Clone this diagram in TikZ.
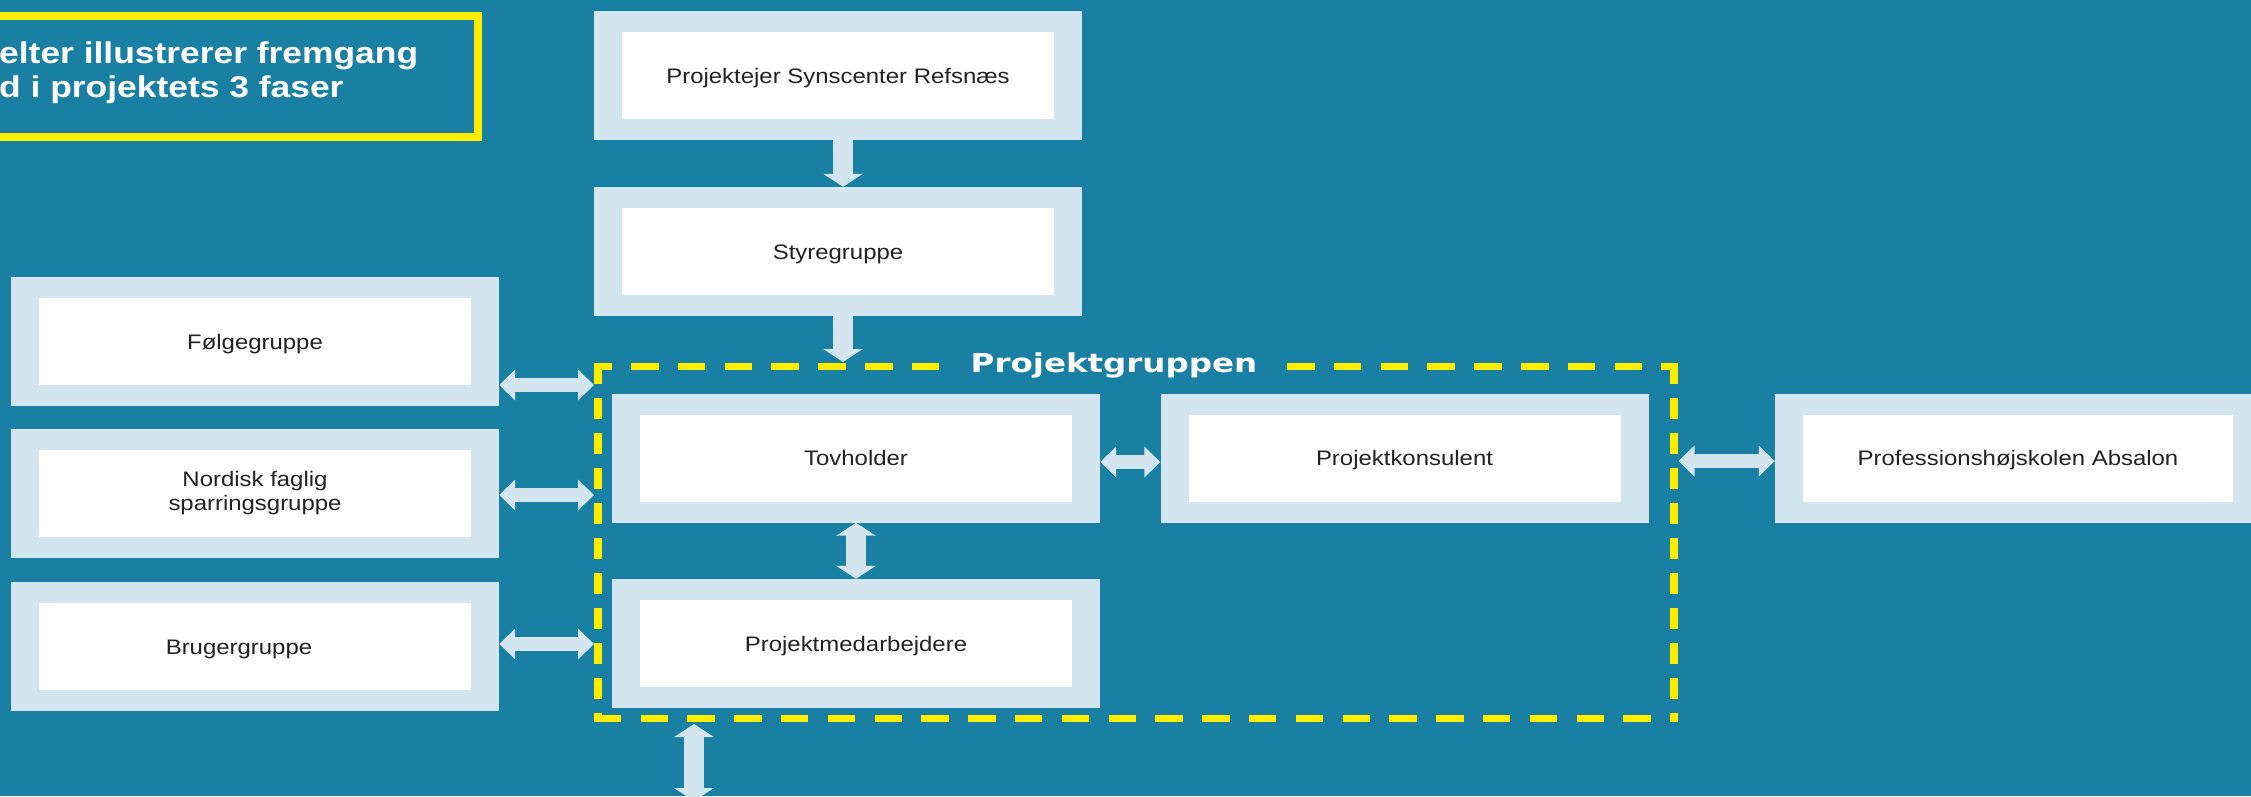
\documentclass[tikz,border=0pt]{standalone}
\usepackage{fontspec}
\setmainfont{Liberation Sans}[FakeStretch=1.14]
\newfontfamily\titlefont{Liberation Sans}[FakeStretch=1.18]
\newfontfamily\groupfont{DejaVu Sans}[FakeStretch=1.25]
\usetikzlibrary{arrows.meta}
\definecolor{bgteal}{RGB}{25,128,163}
\definecolor{boxblue}{RGB}{211,230,240}
\definecolor{frameyellow}{RGB}{255,237,0}
\definecolor{labelgrey}{RGB}{34,34,34}
\begin{document}
\begin{tikzpicture}[x=1pt,y=-1pt,
    box/.style={fill=boxblue,minimum width=488pt,minimum height=129pt,inner sep=0pt,
      text=labelgrey,font=\fontsize{21}{24}\selectfont,text height=15pt,text depth=0pt,
      path picture={\fill[white] ([xshift=28pt,yshift=21pt]path picture bounding box.south west)
        rectangle ([xshift=-28pt,yshift=-21pt]path picture bounding box.north east);}},
    harrow/.style={boxblue,line width=14pt,>={Triangle[width=30pt,length=16pt]}},
    varrow/.style={boxblue,line width=20pt,>={Triangle[width=39pt,length=13pt]}},
    hdash/.style={frameyellow,line width=7pt,dash pattern=on 27.5pt off 19.3pt},
    vdash/.style={frameyellow,line width=8.5pt,dash pattern=on 21pt off 14pt}]
    \fill[bgteal] (0,0) rectangle (2251,796);
    \useasboundingbox (0,0) rectangle (2251,796);
    \draw[frameyellow,line width=8pt] (-20,15.5) rectangle (477.5,137);
    \node[anchor=base west,inner sep=0pt,text=white,font={\titlefont\bfseries\fontsize{30}{34}\selectfont}] (title1) at (-1,63.3) {elter illustrerer fremgang};
    \node[anchor=base west,inner sep=0pt,text=white,font={\titlefont\bfseries\fontsize{30}{34}\selectfont}] (title2) at (-1,97.7) {d i projektets 3 faser};
    \node[box] (owner) at (838,75.5) {Projektejer Synscenter Refsnæs};
    \node[box] (steer) at (838,251.5) {Styregruppe};
    \node[box] (folge) at (255,341.5) {Følgegruppe};
    \node[box,align=center,text height=,text depth=] (nordic) at (255,493.5) {Nordisk faglig\\sparringsgruppe};
    \node[box] (bruger) at (255,646.5) {Brugergruppe\hspace*{32pt}};
    \node[box] (tov) at (856,458) {Tovholder};
    \node[box] (staff) at (856,643.5) {Projektmedarbejdere};
    \node[box] (consult) at (1404.5,458) {Projektkonsulent};
    \node[box,minimum width=486pt] (absalon) at (2018,458) {Professionshøjskolen Absalon};
    \coordinate (pgnw) at (598,366);
    \coordinate (pgne) at (1674,366);
    \coordinate (pgsw) at (598,718);
    \coordinate (pgse) at (1674,718);
    \draw[hdash,dash phase=9.5pt] ([xshift=-4.25pt]pgnw) -- (940,366);
    \draw[hdash] (1287,366) -- ([xshift=4.25pt]pgne);
    \draw[hdash] ([xshift=-4.25pt]pgsw) -- ([xshift=4.25pt]pgse);
    \draw[vdash] ([yshift=3.5pt]pgnw) -- ([yshift=-3.5pt]pgsw);
    \draw[vdash] ([yshift=3.5pt]pgne) -- ([yshift=-3.5pt]pgse);
    \node[anchor=base,inner sep=0pt,text=white,font={\groupfont\bfseries\fontsize{26}{30}\selectfont}] (grouplabel) at (1114,372) {Projektgruppen};
    \draw[varrow,->] ([xshift=5pt]owner.south) -- ([xshift=5pt]steer.north);
    \draw[varrow,->] ([xshift=5pt]steer.south) -- ([xshift=5pt,yshift=4pt]steer.south |- pgnw);
    \draw[harrow,<->] ([yshift=-43.5pt]folge.east) -- ([xshift=-4pt,yshift=-43.5pt]folge.east -| pgnw);
    \draw[harrow,<->] ([yshift=-1.5pt]nordic.east) -- ([xshift=-4pt,yshift=-1.5pt]nordic.east -| pgnw);
    \draw[harrow,<->] ([yshift=2.5pt]bruger.east) -- ([xshift=-4pt,yshift=2.5pt]bruger.east -| pgnw);
    \draw[harrow,<->] ([yshift=-4pt]tov.east) -- ([yshift=-4pt]consult.west);
    \draw[harrow,<->] ([xshift=4.5pt,yshift=-3pt]absalon.west -| pgne) -- ([yshift=-3pt]absalon.west);
    \draw[varrow,<->] (tov.south) -- (staff.north);
    \coordinate (below) at (694,801);
    \draw[varrow,<->] ([yshift=-6pt]pgsw -| below) -- (below);
\end{tikzpicture}
\end{document}
